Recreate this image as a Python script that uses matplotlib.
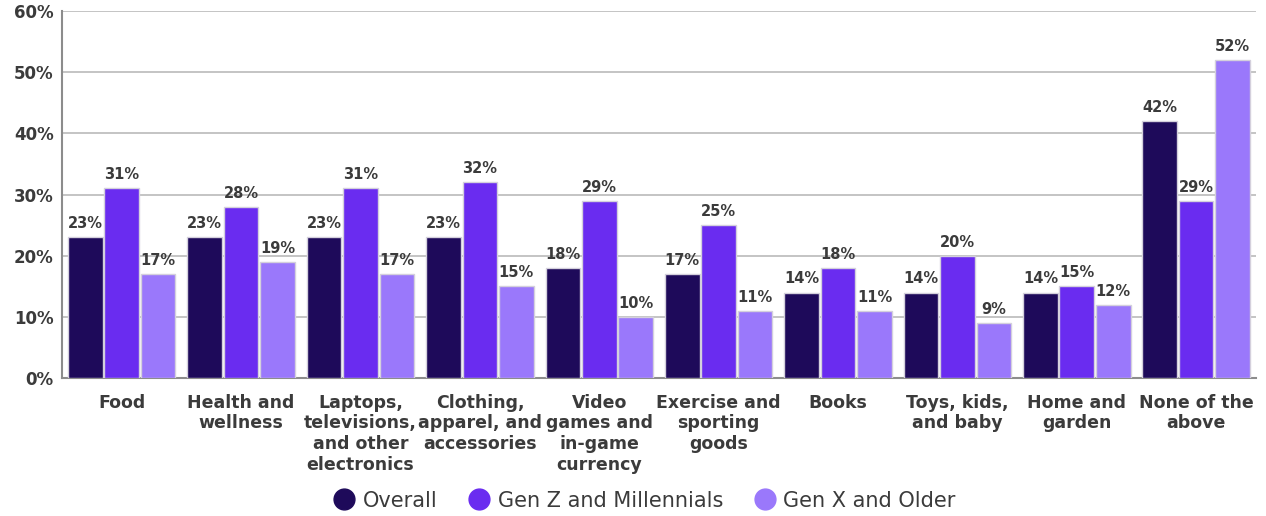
import matplotlib.pyplot as plt
import numpy as np
from matplotlib.lines import Line2D

plt.rcParams['font.family'] = ['DejaVu Sans']

CATEGORIES = ["Food", "Health and\nwellness", "Laptops,\ntelevisions,\nand other\nelectronics",
              "Clothing,\napparel, and\naccessories", "Video\ngames and\nin-game\ncurrency",
              "Exercise and\nsporting\ngoods", "Books", "Toys, kids,\nand baby",
              "Home and\ngarden", "None of the\nabove"]
OVERALL = [23, 23, 23, 23, 18, 17, 14, 14, 14, 42]
GEN_Z_MILLENNIALS = [31, 28, 31, 32, 29, 25, 18, 20, 15, 29]
GEN_X_OLDER = [17, 19, 17, 15, 10, 11, 11, 9, 12, 52]
SERIES_NAMES = ["Overall", "Gen Z and Millennials", "Gen X and Older"]

COLOURS = ["#1e0a5a", "#6a2cf0", "#9a78fb"]
TEXT = "#3b3b3b"

fig = plt.figure(figsize=(12.66, 5.16), dpi=100)
ax = fig.add_axes([0.049, 0.267, 0.943, 0.712])

x = np.arange(len(CATEGORIES))
width = 0.29
for i, (vals, col) in enumerate(zip([OVERALL, GEN_Z_MILLENNIALS, GEN_X_OLDER], COLOURS)):
    pos = x + (i - 1) * 0.305
    bars = ax.bar(pos, vals, width, color=col, edgecolor="#d4d0dc", linewidth=1.0, zorder=3)
    for b, v in zip(bars, vals):
        ax.text(b.get_x() + b.get_width() / 2, v + 1.0, f"{v}%", ha="center", va="bottom",
                fontsize=10.5, fontweight="bold", color=TEXT, zorder=4)

ax.set_xlim(-0.5, 9.5)
ax.set_ylim(0, 60)
ax.set_yticks(range(0, 61, 10))
ax.set_yticklabels([f"{t}%" for t in range(0, 61, 10)])
ax.yaxis.grid(True, color="#b4b4b4", linewidth=1.1, zorder=0)
ax.set_xticks(x)
ax.set_xticklabels(CATEGORIES, fontsize=12.5, fontweight="bold", color=TEXT, linespacing=1.2, va="top")
ax.tick_params(axis="x", length=0, pad=11)
ax.tick_params(axis="y", length=0, pad=6, labelsize=12, labelcolor=TEXT)
for lbl in ax.get_yticklabels():
    lbl.set_fontweight("bold")

for s in ["top", "right"]:
    ax.spines[s].set_visible(False)
for s in ["left", "bottom"]:
    ax.spines[s].set_color("#8c8c8c")
    ax.spines[s].set_linewidth(1.5)

handles = [Line2D([], [], marker="o", linestyle="none", markersize=15, markerfacecolor=c,
                  markeredgecolor=c) for c in COLOURS]
fig.legend(handles, SERIES_NAMES, loc="center", bbox_to_anchor=(0.505, 0.03), ncol=3,
           frameon=False, fontsize=15, handletextpad=-0.1, columnspacing=1.0,
           labelcolor=TEXT)

fig.savefig("out.png", dpi=100)
